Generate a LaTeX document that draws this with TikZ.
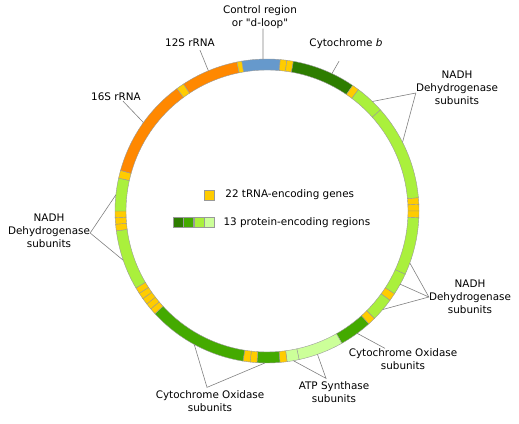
\documentclass[tikz,border=0pt]{standalone}
\usepackage{fontspec}
\setmainfont{DejaVu Sans}[Ligatures=TeXOff]
\usepackage{tikz}
\usetikzlibrary{positioning}

\definecolor{trnacol}{HTML}{FFCC00}
\definecolor{rrnacol}{HTML}{FF8800}
\definecolor{dloopcol}{HTML}{6699CC}
\definecolor{cytbcol}{HTML}{2D7D00}
\definecolor{coxcol}{HTML}{44AA00}
\definecolor{nadhcol}{HTML}{AAF03C}
\definecolor{atpcol}{HTML}{CCFF99}

\newcommand{\ringin}{141pt}
\newcommand{\ringout}{152pt}

\begin{document}
\begin{tikzpicture}[
  x=1pt, y=-1pt,
  every node/.style={font=\fontsize{10.4}{12.8}\selectfont},
  genelabel/.style={align=center, inner sep=0pt},
  seg/.style={draw=black!40, line width=0.4pt},
  leader/.style={draw=black!50, line width=0.6pt},
  legsq/.style={draw=black!40, line width=0.4pt, minimum width=10pt,
                minimum height=10pt, inner sep=0pt}
]
\useasboundingbox (0,0) rectangle (519,423);

\begin{scope}[shift={(267,211)}]
\foreach \c/\a/\b in {dloopcol/99.6/85, trnacol/85/82.5, trnacol/82.5/80,
    cytbcol/80/55.7, trnacol/55.7/53, nadhcol/53/41.7, nadhcol/41.7/5,
    trnacol/5/2.5, trnacol/2.5/0, trnacol/0/-2.6, nadhcol/-2.6/-24.6,
    nadhcol/-24.6/-33, trnacol/-33/-36, nadhcol/-36/-45, trnacol/-45/-48,
    coxcol/-48/-60.5, atpcol/-60.5/-77.8, atpcol/-77.8/-82.4,
    trnacol/-82.4/-85.1, coxcol/-85.1/-93.8, trnacol/-93.8/-96.4,
    trnacol/-96.4/-99.1, coxcol/-99.1/-137.5, trnacol/-137.5/-139.9,
    trnacol/-139.9/-142.3, trnacol/-142.3/-144.8, trnacol/-144.8/-147.2,
    trnacol/-147.2/-149.6, nadhcol/-149.6/-172.5, trnacol/-172.5/-175,
    trnacol/-175/-177.5, trnacol/-177.5/-180, nadhcol/180/167.5,
    trnacol/167.5/164.5, rrnacol/164.5/126.3, trnacol/126.3/123.3,
    rrnacol/123.3/101.4, trnacol/101.4/99.6}
  \filldraw[seg, fill=\c] (\a:\ringin) arc[start angle=\a, end angle=\b, radius=\ringin]
    -- (\b:\ringout) arc[start angle=\b, end angle=\a, radius=\ringout] -- cycle;

\coordinate (pdloop) at (91.5:\ringout);
\coordinate (p12s) at (112.7:\ringout);
\coordinate (p16s) at (144.4:\ringout);
\coordinate (pcytb) at (64.7:\ringout);
\coordinate (pndr1) at (46.1:\ringout);
\coordinate (pndr2) at (26.9:\ringout);
\coordinate (pndlr1) at (-20:\ringout);
\coordinate (pndlr2) at (-28.8:\ringout);
\coordinate (pndlr3) at (-40.4:\ringout);
\coordinate (pcoxr) at (-53.6:\ringout);
\coordinate (patp1) at (-80:\ringout);
\coordinate (patp2) at (-70.6:\ringout);
\coordinate (pcoxb1) at (-118.6:\ringout);
\coordinate (pcoxb2) at (-90.8:\ringout);
\coordinate (pndl1) at (173.9:\ringout);
\coordinate (pndl2) at (-161.1:\ringout);
\end{scope}

\node[genelabel] (dloop) at (260,17) {Control region\\or "d-loop"};
\node[genelabel] (s12) at (190,43) {12S rRNA};
\node[genelabel] (s16) at (116,97) {16S rRNA};
\node[genelabel] (cytb) at (346,44) {Cytochrome \textit{b}};
\node[genelabel] (ndr) at (457,88) {NADH\\Dehydrogenase\\subunits};
\node[genelabel] (ndlr) at (470,297) {NADH\\Dehydrogenase\\subunits};
\node[genelabel] (ndl) at (49,231) {NADH\\Dehydrogenase\\subunits};
\node[genelabel] (coxr) at (403,359) {Cytochrome Oxidase\\subunits};
\node[genelabel] (atp) at (334,392) {ATP Synthase\\subunits};
\node[genelabel] (coxb) at (210,401) {Cytochrome Oxidase\\subunits};

\node[legsq, fill=trnacol] (ltrna) at (209,195) {};
\node[right=10pt of ltrna, inner sep=1pt] (ltrnatext) {22 tRNA-encoding genes};
\node[legsq, fill=cytbcol] (lprot1) at (178,222.5) {};
\node[legsq, fill=coxcol, right=0pt of lprot1] (lprot2) {};
\node[legsq, fill=nadhcol, right=0pt of lprot2] (lprot3) {};
\node[legsq, fill=atpcol, right=0pt of lprot3] (lprot4) {};
\node[right=8pt of lprot4, inner sep=1pt] (lprottext) {13 protein-encoding regions};

\draw[leader] ([xshift=3pt]dloop.south) -- (pdloop);
\draw[leader] ([xshift=10pt,yshift=-3pt]s12.south) -- (p12s);
\draw[leader] ([xshift=7pt]s16.south) -- (p16s);
\draw[leader] ([xshift=-7pt,yshift=-12pt]cytb.south) -- (pcytb);
\draw[leader] (pndr1) -- ([yshift=-5pt]ndr.west) -- (pndr2);
\draw[leader] (pndlr1) -- (ndlr.west) -- (pndlr3);
\draw[leader] (ndlr.west) -- (pndlr2);
\draw[leader] (pndl1) -- ([yshift=-2pt]ndl.east) -- (pndl2);
\draw[leader] ([xshift=-18pt]coxr.north) -- (pcoxr);
\draw[leader] (patp1) -- ([xshift=-8pt,yshift=3pt]atp.north) -- (patp2);
\draw[leader] (pcoxb1) -- ([xshift=-3pt,yshift=3pt]coxb.north) -- (pcoxb2);

\end{tikzpicture}
\end{document}
